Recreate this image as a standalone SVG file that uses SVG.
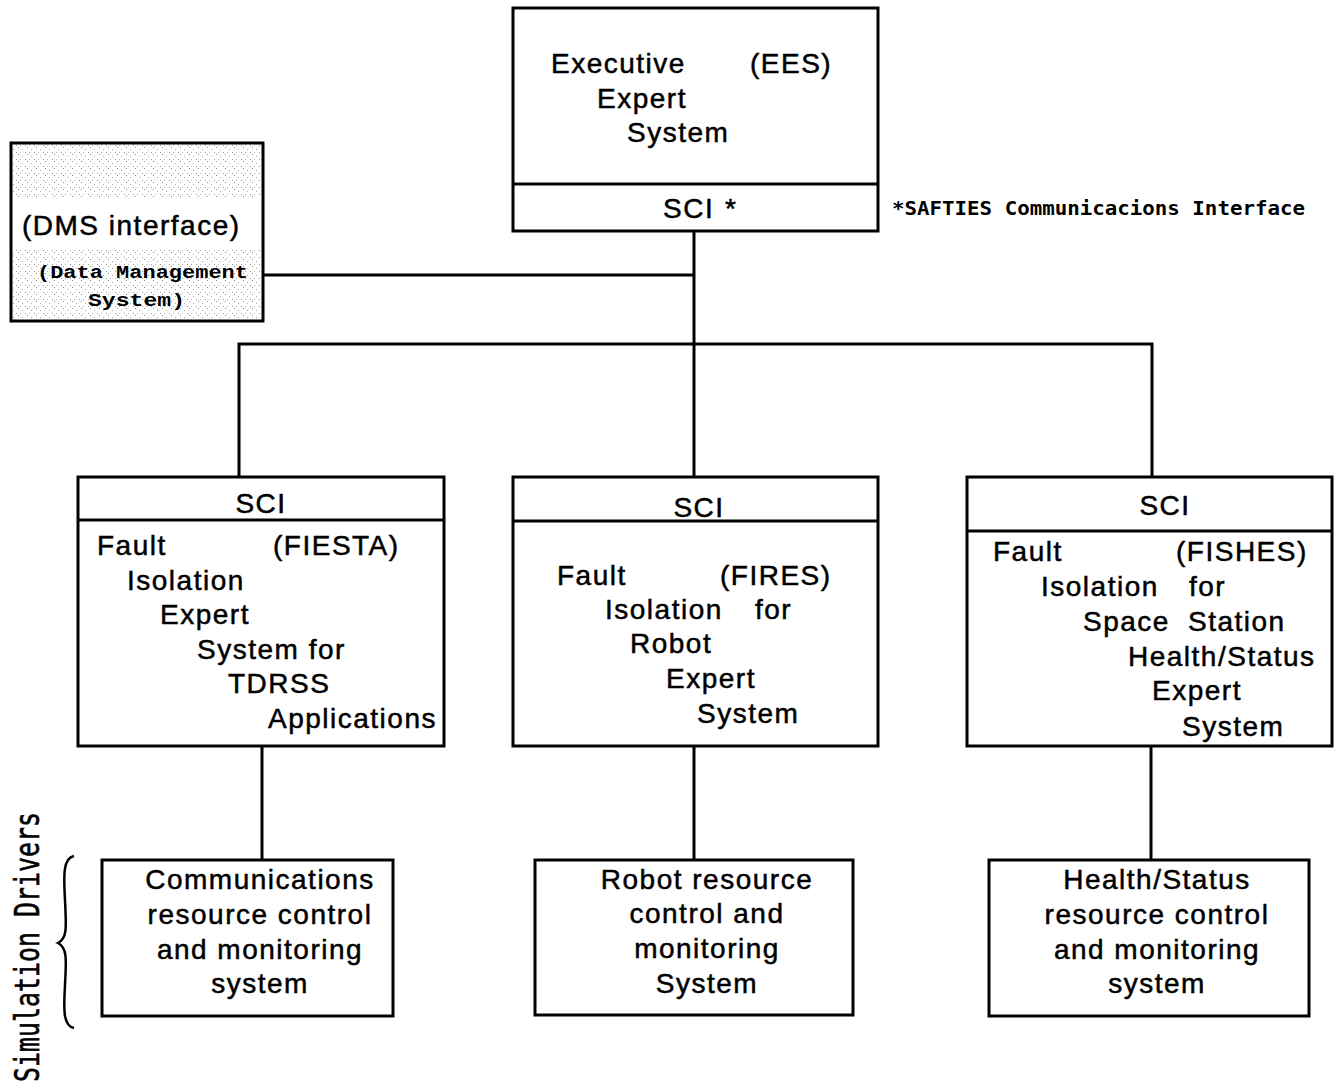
<svg xmlns="http://www.w3.org/2000/svg" width="1341" height="1088" viewBox="0 0 1341 1088">
<defs>
<pattern id="speckle" width="9" height="7" patternUnits="userSpaceOnUse">
<rect x="0" y="0" width="1" height="1" fill="#888"/>
<rect x="4" y="2" width="1" height="1" fill="#aaa"/>
<rect x="7" y="5" width="1" height="1" fill="#999"/>
<rect x="2" y="5" width="1" height="1" fill="#bbb"/>
</pattern>
</defs>
<style>
.box{fill:#fff;stroke:#000;stroke-width:3}
.div{stroke:#000;stroke-width:3}
.t{font-family:"Liberation Sans",Arial,sans-serif;font-size:28px;letter-spacing:1.5px;fill:#000;stroke:#000;stroke-width:0.5px}
.m{font-family:"Liberation Mono","DejaVu Sans Mono",monospace;font-weight:bold;fill:#000}
.f{font-family:"DejaVu Sans Mono","Liberation Mono",monospace;font-weight:bold;fill:#000}
.v{font-family:"DejaVu Sans Mono","Liberation Mono",monospace;font-weight:normal;fill:#000;stroke:#000;stroke-width:0.6px}
.c{text-anchor:middle}
.ln{fill:none;stroke:#000;stroke-width:3}
</style>
<rect width="1341" height="1088" fill="#fff"/>

<g id="connectors">
<path class="ln" d="M694 231 V344"/>
<path class="ln" d="M263 275 H694"/>
<path class="ln" d="M239 477 V344 H1152 V477"/>
<path class="ln" d="M694 344 V477"/>
<path class="ln" d="M262 746 V860"/>
<path class="ln" d="M694 746 V860"/>
<path class="ln" d="M1151 746 V860"/>
</g>

<g id="ees">
<rect class="box" x="513" y="8" width="365" height="223"/>
<line class="div" x1="513" y1="184" x2="878" y2="184"/>
<text class="t" x="551" y="73">Executive</text>
<text class="t" x="750" y="73">(EES)</text>
<text class="t" x="597" y="108">Expert</text>
<text class="t" x="627" y="142">System</text>
<text class="t" x="663" y="218">SCI</text>
<text class="t" x="725" y="218">*</text>
</g>

<g id="footnote">
<text class="f" x="892" y="215" font-size="19" textLength="413" lengthAdjust="spacingAndGlyphs">*SAFTIES Communicacions Interface</text>
</g>

<g id="dms">
<rect class="box" x="11" y="143" width="252" height="178"/>
<rect x="13" y="145" width="248" height="52" fill="url(#speckle)"/>
<rect x="13" y="250" width="248" height="69" fill="url(#speckle)"/>
<text class="t" x="22" y="235">(DMS interface)</text>
<text class="m" x="37" y="278" font-size="19" textLength="211" lengthAdjust="spacingAndGlyphs">(Data Management</text>
<text class="m" x="88" y="306" font-size="19" textLength="97" lengthAdjust="spacingAndGlyphs">System)</text>
</g>

<g id="fiesta">
<rect class="box" x="78" y="477" width="366" height="269"/>
<line class="div" x1="78" y1="520" x2="444" y2="520"/>
<text class="t c" x="261" y="513">SCI</text>
<text class="t" x="97" y="555">Fault</text>
<text class="t" x="273" y="555">(FIESTA)</text>
<text class="t" x="127" y="590">Isolation</text>
<text class="t" x="160" y="624">Expert</text>
<text class="t" x="197" y="659">System for</text>
<text class="t" x="228" y="693">TDRSS</text>
<text class="t" x="268" y="728">Applications</text>
</g>

<g id="fires">
<rect class="box" x="513" y="477" width="365" height="269"/>
<line class="div" x1="513" y1="521" x2="878" y2="521"/>
<text class="t c" x="699" y="517">SCI</text>
<text class="t" x="557" y="585">Fault</text>
<text class="t" x="720" y="585">(FIRES)</text>
<text class="t" x="605" y="619">Isolation</text>
<text class="t" x="755" y="619">for</text>
<text class="t" x="630" y="653">Robot</text>
<text class="t" x="666" y="688">Expert</text>
<text class="t" x="697" y="723">System</text>
</g>

<g id="fishes">
<rect class="box" x="967" y="477" width="365" height="269"/>
<line class="div" x1="967" y1="531" x2="1332" y2="531"/>
<text class="t c" x="1165" y="515">SCI</text>
<text class="t" x="993" y="561">Fault</text>
<text class="t" x="1176" y="561">(FISHES)</text>
<text class="t" x="1041" y="596">Isolation</text>
<text class="t" x="1189" y="596">for</text>
<text class="t" x="1083" y="631">Space</text>
<text class="t" x="1188" y="631">Station</text>
<text class="t" x="1128" y="666">Health/Status</text>
<text class="t" x="1152" y="700">Expert</text>
<text class="t" x="1182" y="736">System</text>
</g>

<g id="comm">
<rect class="box" x="102" y="860" width="291" height="156"/>
<text class="t c" x="260" y="889">Communications</text>
<text class="t c" x="260" y="924">resource control</text>
<text class="t c" x="260" y="959">and monitoring</text>
<text class="t c" x="260" y="993">system</text>
</g>

<g id="robot">
<rect class="box" x="535" y="860" width="318" height="155"/>
<text class="t c" x="707" y="889">Robot resource</text>
<text class="t c" x="707" y="923">control and</text>
<text class="t c" x="707" y="958">monitoring</text>
<text class="t c" x="707" y="993">System</text>
</g>

<g id="health">
<rect class="box" x="989" y="860" width="320" height="156"/>
<text class="t c" x="1157" y="889">Health/Status</text>
<text class="t c" x="1157" y="924">resource control</text>
<text class="t c" x="1157" y="959">and monitoring</text>
<text class="t c" x="1157" y="993">system</text>
</g>

<g id="simdrivers">
<text class="v" font-size="34" transform="translate(39,1082) rotate(-90)" textLength="270" lengthAdjust="spacingAndGlyphs">Simulation Drivers</text>
<path d="M74 856 C62 858 64 880 65 900 C66 925 68 938 58 943 C68 948 66 962 65 985 C64 1005 62 1026 74 1028" fill="none" stroke="#000" stroke-width="2.5"/>
</g>
</svg>
